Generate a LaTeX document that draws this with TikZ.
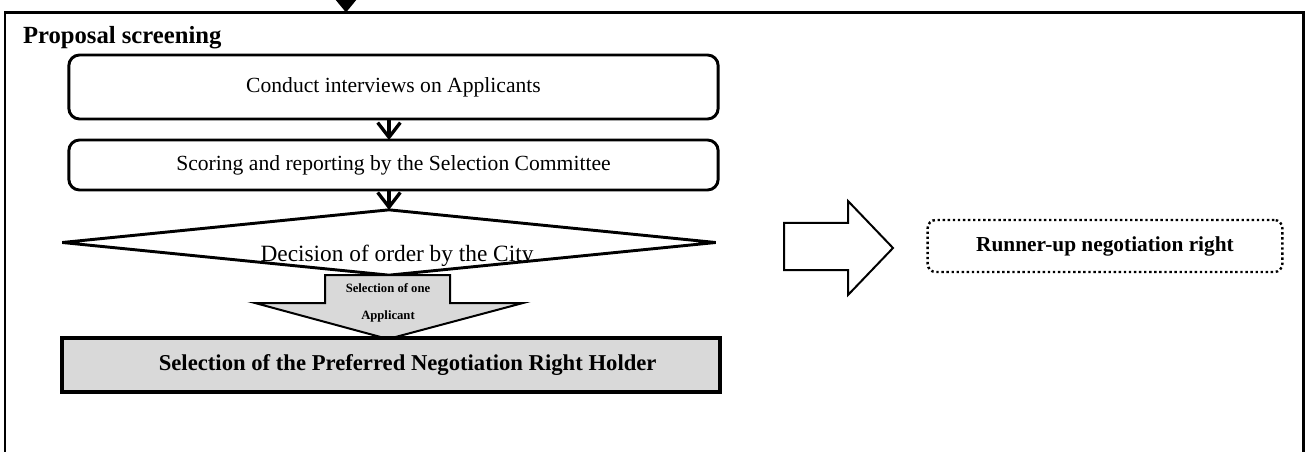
\documentclass[tikz,border=0pt]{standalone}
\usepackage{fontspec}
\setmainfont{Liberation Serif}
\usetikzlibrary{shapes.geometric,arrows.meta,positioning}

\begin{document}
\begin{tikzpicture}[
    x = 0.75pt, y = -0.75pt,
    every node/.style = {inner sep = 0pt, outer sep = 0pt},
    procbox/.style = {
        draw, line width = 2.2pt, rounded corners = 8pt,
        minimum width = 487pt,
        font = \fontsize{16.2}{19}\selectfont
    },
    flowarrow/.style = {
        line width = 2.5pt,
        -{Straight Barb[length = 11pt, width = 17pt]}
    },
    blockarrow/.style = {line width = 1.5pt, line join = miter}
]

\clip (0,0) rectangle (1312,452);

% outer frame and the arrow coming in from above
\node[draw, line width = 1.8pt, anchor = north west,
      minimum width = 974pt, minimum height = 360pt] (screen) at (5,12.5) {};
\coordinate (entry) at (346,-30);
\draw[line width = 1.5pt, -{Triangle[length = 10pt, width = 16pt]}]
    (entry) -- (entry |- screen.north);

\node[anchor = base west, font = \bfseries\fontsize{18.5}{22}\selectfont]
    (title) at (23,44) {Proposal screening};

% main column
\node[procbox, minimum height = 48pt] (interview) at (393.5,87)
    {Conduct interviews on Applicants};
\node[procbox, minimum height = 37.5pt] (scoring) at (393.5,165)
    {Scoring and reporting by the Selection Committee};
\node[draw, diamond, line width = 2.2pt,
      minimum width = 490pt, minimum height = 49pt] (order) at (389,242.5) {};
\begin{scope}
    \clip (order.west) -- (order.north) -- (order.east) -- (order.south) -- cycle;
    \node[anchor = base, font = \fontsize{17.5}{20}\selectfont]
        (ordertext) at (397,261) {Decision of order by the City};
\end{scope}

\draw[flowarrow] (interview.south -| order.north) -- (scoring.north -| order.north);
\draw[flowarrow] (scoring.south -| order.north) -- (order.north);

% selection of one applicant
\draw[blockarrow, fill = gray!30]
    (325,275) -- (450,275) -- (450,303) -- (523,303) -- (388,339)
    -- (255,303) -- (325,303) -- cycle;
\node[align = center, font = \bfseries\fontsize{9.5}{20}\selectfont]
    (pickone) at (388,303) {Selection of one\\Applicant};

\node[draw, fill = gray!30, line width = 2.5pt,
      minimum width = 493.5pt, minimum height = 40.5pt,
      font = \bfseries\fontsize{17}{20}\selectfont]
    (holder) at (391,365) {\hspace*{25pt}Selection of the Preferred Negotiation Right Holder};

% runner-up
\draw[blockarrow]
    (784,223) -- (848,223) -- (848,201) -- (893,248) -- (848,295)
    -- (848,270) -- (784,270) -- cycle;
\node[draw, dotted, line width = 1.8pt, rounded corners = 6pt,
      minimum width = 266pt, minimum height = 39pt,
      font = \bfseries\fontsize{16}{19}\selectfont]
    (runner) at (1105,246) {Runner-up negotiation right};

\end{tikzpicture}
\end{document}
